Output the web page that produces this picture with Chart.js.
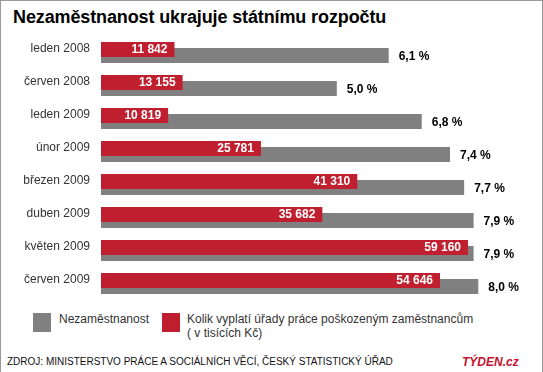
<!DOCTYPE html>
<html>
<head>
<meta charset="utf-8">
<script src="https://cdn.jsdelivr.net/npm/chart.js@4/dist/chart.umd.min.js"></script>
<style>
  body { margin: 0; background: #fff; font-family: "Liberation Sans", Arial, sans-serif; }
  #wrap { position: relative; width: 543px; height: 372px; box-sizing: border-box;
    border: 1px solid #999; border-bottom: none; overflow: hidden; }
  #title { position: absolute; left: 12px; top: 6px; font-size: 18px; font-weight: bold; color: #000;
    white-space: nowrap; letter-spacing: -0.12px; }
  #chartBox { position: absolute; left: -1px; top: 29px; width: 543px; height: 276px; }
  .legend { position: absolute; top: 311px; font-size: 12px; color: #333; line-height: 14px; }
  .swatch { position: absolute; top: 312px; width: 18px; height: 19px; }
  #source { position: absolute; left: 6px; top: 355px; font-size: 10px; color: #111; white-space: nowrap; }
  #logo { position: absolute; left: 461px; top: 354px; font-size: 12px; font-weight: bold; font-style: italic; color: #c8102e; }
</style>
</head>
<body>
<div id="wrap">
  <div id="title">Nezaměstnanost ukrajuje státnímu rozpočtu</div>
  <div id="chartBox"><canvas id="chart"></canvas></div>
  <div class="swatch" style="left:32px;background:#808080"></div>
  <div class="legend" style="left:58px">Nezaměstnanost</div>
  <div class="swatch" style="left:161px;background:#c01f2f"></div>
  <div class="legend" style="left:186px">Kolik vyplatí úřady práce poškozeným zaměstnancům<br>( v tisících Kč)</div>
  <div id="source">ZDROJ: MINISTERSTVO PRÁCE A SOCIÁLNÍCH VĚCÍ, ČESKÝ STATISTICKÝ ÚŘAD</div>
  <div id="logo">TÝDEN.cz</div>
</div>
<script>
// data
const months = ['leden 2008', 'červen 2008', 'leden 2009', 'únor 2009', 'březen 2009', 'duben 2009', 'květen 2009', 'červen 2009'];
const payouts = [11842, 13155, 10819, 25781, 41310, 35682, 59160, 54646]; // tis. Kč
const unemployment = [6.1, 5.0, 6.8, 7.4, 7.7, 7.9, 7.9, 8.0]; // %

const RED = '#c01f2f';
const GRAY = '#808080';

function fmtThousands(v) {
  return String(v).replace(/\B(?=(\d{3})+(?!\d))/g, ' ');
}

function fmtPct(v) {
  return v.toFixed(1).replace('.', ',') + ' %';
}

// value labels next to / inside the bars
const valueLabels = {
  id: 'valueLabels',
  afterDatasetsDraw(chart) {
    const ctx = chart.ctx;
    ctx.save();
    ctx.font = 'bold 12px "Liberation Sans", Arial, sans-serif';
    ctx.textBaseline = 'middle';
    chart.getDatasetMeta(0).data.forEach((bar, i) => {
      ctx.fillStyle = '#fff';
      ctx.textAlign = 'right';
      ctx.fillText(fmtThousands(payouts[i]), bar.x - 7, bar.y);
    });
    chart.getDatasetMeta(1).data.forEach((bar, i) => {
      ctx.fillStyle = '#000';
      ctx.textAlign = 'left';
      ctx.fillText(fmtPct(unemployment[i]), bar.x + 10, bar.y + 1);
    });
    ctx.restore();
  }
};

new Chart(document.getElementById('chart'), {
  type: 'bar',
  data: {
    labels: months,
    datasets: [
      {
        label: 'Kolik vyplatí úřady práce poškozeným zaměstnancům',
        data: payouts,
        backgroundColor: RED,
        xAxisID: 'x',
        categoryPercentage: 0.3636,
        barPercentage: 2.5
      },
      {
        label: 'Nezaměstnanost',
        data: unemployment,
        backgroundColor: GRAY,
        xAxisID: 'x2',
        categoryPercentage: 0.3636,
        barPercentage: 2.5
      }
    ]
  },
  options: {
    indexAxis: 'y',
    responsive: true,
    maintainAspectRatio: false,
    animation: false,
    layout: { padding: { top: 6, bottom: 6, right: 43, left: 0 } },
    plugins: {
      legend: { display: false },
      tooltip: { enabled: false }
    },
    scales: {
      x: { display: false, min: 0, max: 64319 },
      x2: { display: false, min: 0, max: 8.46 },
      y: {
        grid: { display: false, drawTicks: false },
        border: { display: false },
        afterFit(scale) {
          scale.width = 101;
          // don't let the tick labels push the bars inwards
          scale.paddingTop = 0;
          scale.paddingBottom = 0;
        },
        ticks: {
          padding: 11,
          labelOffset: -4,
          color: '#333',
          font: { family: '"Liberation Sans", Arial, sans-serif', size: 12 }
        }
      }
    }
  },
  plugins: [valueLabels]
});
</script>
</body>
</html>
